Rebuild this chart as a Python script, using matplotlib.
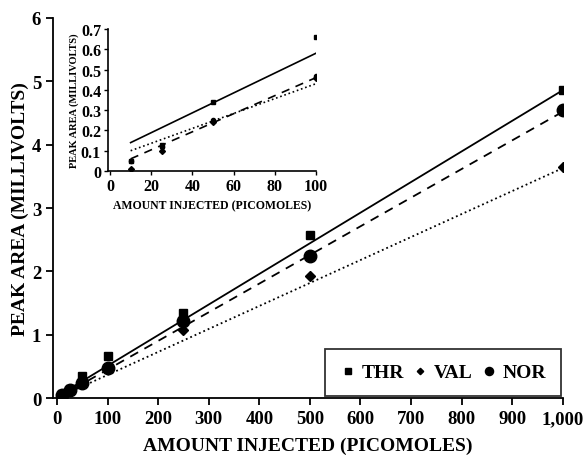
import matplotlib
matplotlib.use("Agg")
import matplotlib.pyplot as plt
from matplotlib.ticker import FuncFormatter

# ---- main data ----
amount = [10, 25, 50, 100, 250, 500, 1000]
thr = [0.06, 0.15, 0.34, 0.66, 1.35, 2.58, 4.86]
val = [0.03, 0.11, 0.25, 0.47, 1.08, 1.92, 3.64]
nor = [0.05, 0.12, 0.23, 0.47, 1.21, 2.24, 4.55]

# regression lines (endpoints)
line_x = [5, 1000]
thr_line = [0.05, 4.86]
nor_line = [0.02, 4.52]
val_line = [0.02, 3.63]

# ---- inset data ----
in_amount = [10, 25, 50, 100]
in_thr = [0.05, 0.13, 0.34, 0.66]
in_val = [0.01, 0.10, 0.24, 0.46]
in_nor = [0.05, 0.12, 0.25, 0.47]
in_line_x = [10, 100]
in_thr_line = [0.14, 0.58]
in_nor_line = [0.06, 0.46]
in_val_line = [0.10, 0.43]

xticks = [0, 100, 200, 300, 400, 500, 600, 700, 800, 900, 1000]
yticks = [0, 1, 2, 3, 4, 5, 6]
in_xticks = [0, 20, 40, 60, 80, 100]
in_yticks = [0, 0.1, 0.2, 0.3, 0.4, 0.5, 0.6, 0.7]

plt.rcParams['font.family'] = ['Liberation Serif', 'DejaVu Serif']
plt.rcParams['font.weight'] = 'bold'

fig = plt.figure(figsize=(5.85, 4.6), dpi=100)
ax = fig.add_axes([0.0906, 0.1326, 0.962 - 0.0906, 0.9587 - 0.1326])

ax.plot(line_x, thr_line, '-', color='black', lw=1.3)
ax.plot(line_x, nor_line, '--', color='black', lw=1.3, dashes=(5, 4))
ax.plot(line_x, val_line, ':', color='black', lw=1.3)
ax.plot(amount, thr, 's', color='black', ms=6, label='THR')
ax.plot(amount, val, 'D', color='black', ms=5, label='VAL')
ax.plot(amount, nor, 'o', color='black', ms=9, label='NOR')

ax.set_xlim(-8, 1000)
ax.set_ylim(0, 6)
ax.set_xticks(xticks)
ax.set_yticks(yticks)
ax.xaxis.set_major_formatter(FuncFormatter(lambda v, p: f"{int(v):,}"))
for s in ['top', 'right']:
    ax.spines[s].set_visible(False)
for s in ['left', 'bottom']:
    ax.spines[s].set_linewidth(1.3)
ax.tick_params(axis='both', labelsize=13.5, width=1.3, length=5, direction='out')
for lbl in ax.get_xticklabels() + ax.get_yticklabels():
    lbl.set_fontweight('bold')
ax.set_xlabel('AMOUNT INJECTED (PICOMOLES)', fontsize=14, fontweight='bold', labelpad=7)
ax.set_ylabel('PEAK AREA (MILLIVOLTS)', fontsize=14, fontweight='bold', labelpad=2)

leg = ax.legend(loc='lower right', ncol=3, frameon=True, fancybox=False,
                edgecolor='black', fontsize=14, handletextpad=0.3,
                handlelength=0.8, columnspacing=0.45, borderpad=0.75,
                markerscale=0.65, borderaxespad=0.1,
                bbox_to_anchor=(1.0, 0.0))
leg.get_frame().set_linewidth(1.3)
for t in leg.get_texts():
    t.set_fontweight('bold')

# ---- inset ----
ins = fig.add_axes([0.1846, 0.626, 0.540 - 0.1846, 0.935 - 0.626])
ins.plot(in_line_x, in_thr_line, '-', color='black', lw=1.2)
ins.plot(in_line_x, in_nor_line, '--', color='black', lw=1.2, dashes=(5, 4))
ins.plot(in_line_x, in_val_line, ':', color='black', lw=1.2)
ins.plot(in_amount, in_thr, 's', color='black', ms=2.5)
ins.plot(in_amount, in_val, 'D', color='black', ms=3)
ins.plot(in_amount, in_nor, 'o', color='black', ms=3)
ins.set_xlim(-1, 100)
ins.set_ylim(0, 0.7)
ins.set_xticks(in_xticks)
ins.set_yticks(in_yticks)
ins.yaxis.set_major_formatter(FuncFormatter(lambda v, p: "0" if v == 0 else f"{v:.1f}"))
for s in ['top', 'right']:
    ins.spines[s].set_visible(False)
for s in ['left', 'bottom']:
    ins.spines[s].set_linewidth(1.2)
ins.tick_params(axis='both', labelsize=11.5, width=1, length=3, direction='out', pad=2)
for lbl in ins.get_xticklabels() + ins.get_yticklabels():
    lbl.set_fontweight('bold')
ins.set_xlabel('AMOUNT INJECTED (PICOMOLES)', fontsize=8.5, fontweight='bold', labelpad=4)
ins.set_ylabel('PEAK AREA (MILLIVOLTS)', fontsize=7.5, fontweight='bold', labelpad=1)

fig.savefig('out.png', dpi=100)
